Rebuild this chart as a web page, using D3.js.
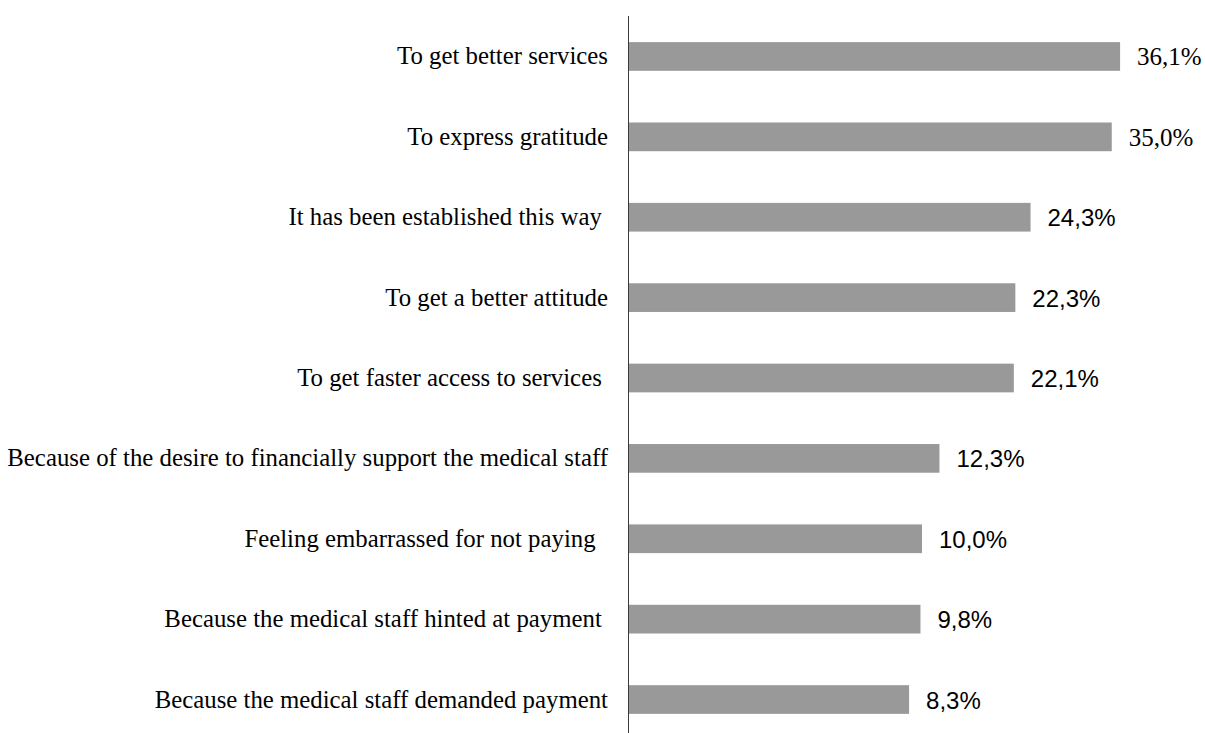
<!DOCTYPE html>
<html>
<head>
<meta charset="utf-8">
<script src="https://cdn.jsdelivr.net/npm/d3@7"></script>
<style>
  html, body { margin: 0; padding: 0; background: #ffffff; }
  svg { display: block; }
  .cat { white-space: pre; }
</style>
</head>
<body>
<svg id="chart" width="1205" height="733"></svg>
<script>
// Reasons given for informal payments to medical staff (% of respondents)
const categories = [
  "To get better services",
  "To express gratitude",
  "It has been established this way ",
  "To get a better attitude",
  "To get faster access to services ",
  "Because of the desire to financially support the medical staff",
  "Feeling embarrassed for not paying  ",
  "Because the medical staff hinted at payment ",
  "Because the medical staff demanded payment"
];
const values = [36.1, 35.0, 24.3, 22.3, 22.1, 12.3, 10.0, 9.8, 8.3];

const SERIF = "'Liberation Serif', 'Times New Roman', Times, serif";
const SANS = "'Liberation Sans', Arial, Helvetica, sans-serif";

const svg = d3.select("#chart");

// Value axis: the category axis line sits at the left end of the domain
const x = d3.scaleLinear()
  .domain([-28.6, 40])
  .range([629, 1149.7]);

const y = d3.scaleBand()
  .domain(categories)
  .range([16, 740])
  .paddingInner(0.643)
  .paddingOuter(0.325);

const locale = d3.formatLocale({ decimal: ",", thousands: " ", grouping: [3], currency: ["", ""] });
const fmt = v => locale.format(".1f")(v) + "%";

const rows = categories.map((c, i) => ({ cat: c, val: values[i], i }));
const base = x(x.domain()[0]);

// Bars
svg.append("g")
  .selectAll("rect")
  .data(rows)
  .join("rect")
  .attr("x", base)
  .attr("y", d => y(d.cat))
  .attr("width", d => x(d.val) - base)
  .attr("height", y.bandwidth())
  .attr("fill", "#999999");

// Category axis line
svg.append("line")
  .attr("x1", base - 0.5).attr("x2", base - 0.5)
  .attr("y1", y.range()[0]).attr("y2", y.range()[1])
  .attr("stroke", "#3a3a3a")
  .attr("stroke-width", 1);

// Category labels
svg.append("g")
  .selectAll("text")
  .data(rows)
  .join("text")
  .attr("class", "cat")
  .attr("text-anchor", "end")
  .attr("x", base - 21)
  .attr("y", d => y(d.cat) + y.bandwidth() / 2 + 8)
  .style("font-family", SERIF)
  .style("font-size", "24.8px")
  .style("fill", "#000")
  .text(d => d.cat);

// Value labels: the first two are set in the serif face
svg.append("g")
  .selectAll("text")
  .data(rows)
  .join("text")
  .attr("x", d => x(d.val) + 17)
  .attr("y", d => y(d.cat) + y.bandwidth() / 2 + 9)
  .style("font-family", d => d.i < 2 ? SERIF : SANS)
  .style("font-size", d => d.i < 2 ? "25px" : "24px")
  .style("fill", "#000")
  .text(d => fmt(d.val));
</script>
</body>
</html>
